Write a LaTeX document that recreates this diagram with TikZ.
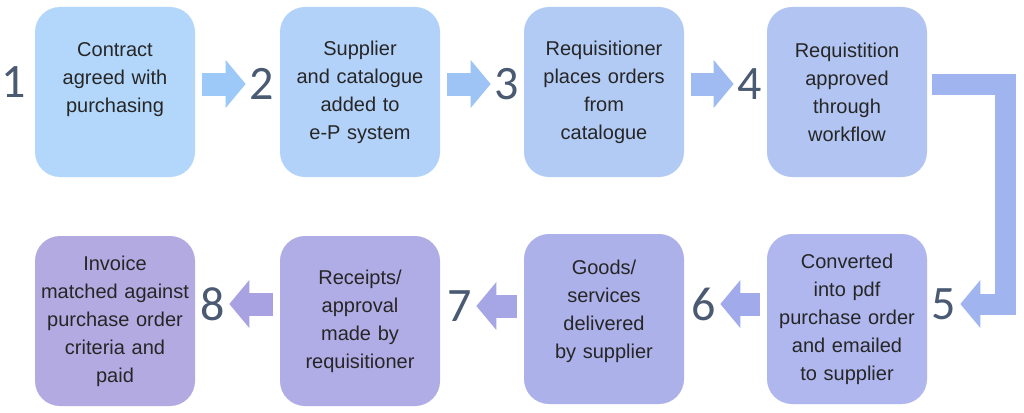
\documentclass[tikz,border=0pt]{standalone}
\usepackage{fontspec}
\setmainfont{Liberation Sans}
\newfontfamily\numfont{Carlito}
\usetikzlibrary{arrows.meta}
\definecolor{box1}{HTML}{B3D7FB}
\definecolor{box2}{HTML}{B3D2F9}
\definecolor{box3}{HTML}{B2CBF5}
\definecolor{box4}{HTML}{B2C4F2}
\definecolor{box5}{HTML}{AFB7EE}
\definecolor{box6}{HTML}{ADB1EA}
\definecolor{box7}{HTML}{B0ACE6}
\definecolor{box8}{HTML}{B4AAE2}
\definecolor{arr1}{HTML}{9CC9F7}
\definecolor{arr2}{HTML}{9EC3F5}
\definecolor{arr3}{HTML}{9FBBF1}
\definecolor{arr4}{HTML}{A0B4EF}
\definecolor{arr5}{HTML}{A1AAEA}
\definecolor{arr6}{HTML}{A6A6E6}
\definecolor{arr7}{HTML}{A9A2E2}
\definecolor{numcol}{HTML}{4A5A72}
\tikzset{
  box/.style={rounded corners=25pt, minimum width=160pt, minimum height=170pt,
    text width=150pt, align=center, inner sep=0pt, text=black!85,
    font=\fontsize{20}{28}\selectfont},
  num/.style={inner sep=0pt, text=numcol, font=\numfont\fontsize{48}{48}\selectfont},
  blockarrow/.style={line width=23pt,
    -{Triangle[length=20pt 0 0,width=48pt 0 0,line width=0pt]},
    shorten <=7pt, shorten >=4pt}
}
\begin{document}
\begin{tikzpicture}[x=1pt,y=-1pt]
      \useasboundingbox[fill=white] (0,0) rectangle (1024,412);
      \path
        (115,92) node[box,fill=box1] (b1){Contract\\agreed with\\purchasing\\~}
        (360,92) node[box,fill=box2] (b2){Supplier\\and catalogue\\added to\\e-P system}
        (604,92) node[box,fill=box3] (b3){Requisitioner\\places orders\\from\\catalogue}
        (847,92) node[box,fill=box4] (b4){Requistition\\approved\\through\\workflow}
        (847,319) node[box,fill=box5] (b5){Converted\\into pdf\\purchase order\\and emailed\\to supplier}
        (604,319) node[box,fill=box6] (b6){Goods/\\services\\delivered\\by supplier\\[-8pt]~}
        (360,321) node[box,fill=box7] (b7){Receipts/\\approval\\made by\\requisitioner}
        (115,321) node[box,fill=box8] (b8){Invoice\\matched against\\purchase order\\criteria and\\paid};
      \path
        (14,82) node[num] (n1){1}
        (262,84) node[num] (n2){2}
        (507,84) node[num] (n3){3}
        (750,84) node[num] (n4){4}
        (944,304) node[num] (n5){5}
        (704,304) node[num] (n6){6}
        (460,306) node[num] (n7){7}
        (213,304) node[num] (n8){8};
      \coordinate (c45) at (1005,84);
      \begin{scope}[blockarrow]
        \draw[arr1] (b1.east |- n2.west) -- (n2.west);
        \draw[arr2] (b2.east |- n3.west) -- (n3.west);
        \draw[arr3] (b3.east |- n4.west) -- (n4.west);
        \draw[arr4, line width=21pt, line join=miter, shorten <=5pt]
          ([yshift=8pt]b4.east) -- (c45) |- (n5.east);
        \draw[arr5] (b5.west |- n6.east) -- (n6.east);
        \draw[arr6] (b6.west |- n7.east) -- (n7.east);
        \draw[arr7] (b7.west |- n8.east) -- (n8.east);
      \end{scope}
    \end{tikzpicture}
\end{document}
